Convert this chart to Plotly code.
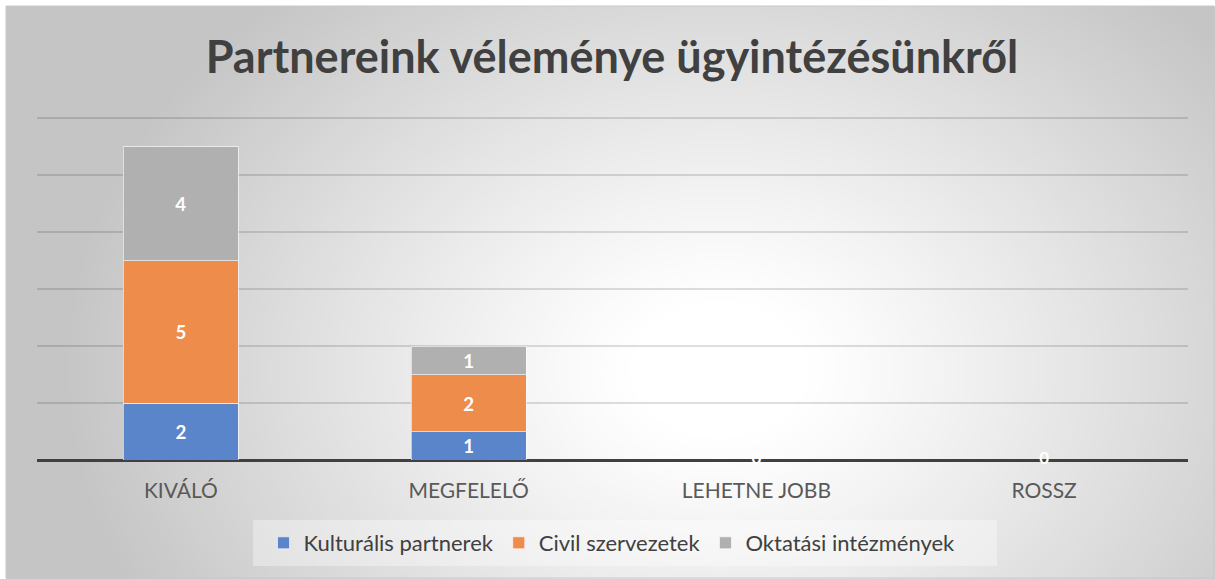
import base64, struct, zlib
import numpy as np
import plotly.graph_objects as go

# ---- data ----
categories = ["KIVÁLÓ", "MEGFELELŐ", "LEHETNE JOBB", "ROSSZ"]
series_names = ["Kulturális partnerek", "Civil szervezetek", "Oktatási intézmények"]
kulturalis = [2, 1, 0, 0]
civil = [5, 2, 0, 0]
oktatasi = [4, 1, 0, 0]
colors = ["#5B85CA", "#EE8C4C", "#B0B0B0"]
title_text = "Partnereink véleménye ügyintézésünkről"

W, H = 1215, 579
ML, MR, MT, MB = 37, 27, 117, 119
PW, PH = W - ML - MR, H - MT - MB


def px2x(px):
    return (px - ML) / PW


def py2y(py):
    return (H - MB - py) / PH


# ---- radial gradient background as PNG ----
def make_png(arr):
    h, w, _ = arr.shape
    raw = b"".join(b"\x00" + arr[i].tobytes() for i in range(h))

    def chunk(tag, data):
        c = struct.pack(">I", len(data)) + tag + data
        return c + struct.pack(">I", zlib.crc32(tag + data) & 0xFFFFFFFF)

    png = b"\x89PNG\r\n\x1a\n"
    png += chunk(b"IHDR", struct.pack(">IIBBBBB", w, h, 8, 2, 0, 0, 0))
    png += chunk(b"IDAT", zlib.compress(raw, 9))
    png += chunk(b"IEND", b"")
    return "data:image/png;base64," + base64.b64encode(png).decode()


gw, gh = 302, 143
yy, xx = np.mgrid[0:gh, 0:gw]
bx = xx / (gw - 1) * 1209 + 6
by = yy / (gh - 1) * 573 + 6
r = np.sqrt(((bx - 720) / 620) ** 2 + ((by - 370) / 480) ** 2)
t = np.clip((r - 0.15) / 0.92, 0, 1)
val = 255 - 58 * t ** 1.1
img = np.clip(val, 0, 255).astype(np.uint8)
arr = np.stack([img, img, img], axis=-1)
bg_src = make_png(arr)

fig = go.Figure()
for name, vals, col in zip(series_names, [kulturalis, civil, oktatasi], colors):
    fig.add_trace(go.Bar(
        x=categories, y=vals, name=name,
        marker=dict(color=col, line=dict(color="rgba(255,255,255,0.6)", width=1)),
        text=[str(v) if v else "" for v in vals],
        textposition="inside", insidetextanchor="middle", textangle=0,
        textfont=dict(family="Lato", size=20, color="white", weight="bold"),
        hoverinfo="skip",
    ))

# zero labels for empty categories
totals = [a + b + c for a, b, c in zip(kulturalis, civil, oktatasi)]
zero_cats = [c for c, tot in zip(categories, totals) if tot == 0]
fig.add_trace(go.Scatter(
    x=zero_cats, y=[0] * len(zero_cats), mode="text",
    text=["0"] * len(zero_cats), textposition="middle center",
    textfont=dict(family="Lato", size=17, color="white", weight="bold"),
    showlegend=False, hoverinfo="skip", cliponaxis=False,
))

fig.update_layout(
    width=W, height=H,
    margin=dict(l=ML, r=MR, t=MT, b=MB, pad=0),
    paper_bgcolor="white",
    plot_bgcolor="rgba(0,0,0,0)",
    barmode="stack",
    bargap=0.6,
    uniformtext=dict(minsize=18, mode="show"),
    title=dict(text=title_text, x=612 / W, xanchor="center",
               y=1 - 57 / H, yanchor="middle",
               font=dict(family="Lato", size=45, color="#404040", weight="bold")),
    xaxis=dict(showgrid=False, ticks="", showline=False, zeroline=False,
               ticklabelstandoff=16,
               tickfont=dict(family="Lato", size=21, color="#595959")),
    yaxis=dict(range=[0, 12.05], tick0=0, dtick=2, showticklabels=False, showgrid=True,
               gridcolor="rgba(0,0,0,0.13)", gridwidth=1.5, zeroline=True,
               zerolinecolor="#404040", zerolinewidth=3),
    legend=dict(orientation="h", x=px2x(612), xanchor="center",
                y=py2y(543), yanchor="middle",
                bgcolor="rgba(0,0,0,0)",
                font=dict(family="Lato", size=22, color="#404040"),
                itemwidth=30, traceorder="normal"),
    images=[dict(source=bg_src, xref="paper", yref="paper",
                 x=px2x(6), y=py2y(6), sizex=1209 / PW, sizey=573 / PH,
                 xanchor="left", yanchor="top", sizing="stretch", layer="below")],
    shapes=[
        dict(type="rect", xref="paper", yref="paper",
             x0=px2x(253), x1=px2x(997), y0=py2y(566), y1=py2y(520),
             fillcolor="rgba(255,255,255,0.35)", line=dict(width=0), layer="below"),
        dict(type="rect", xref="paper", yref="paper",
             x0=px2x(6), x1=px2x(1214), y0=py2y(578), y1=py2y(6),
             fillcolor="rgba(0,0,0,0)", line=dict(color="#C8C8C8", width=1), layer="below"),
    ],
)

fig.write_html("out.html", config={"displayModeBar": False},
               post_script="document.body.style.margin='0';")
